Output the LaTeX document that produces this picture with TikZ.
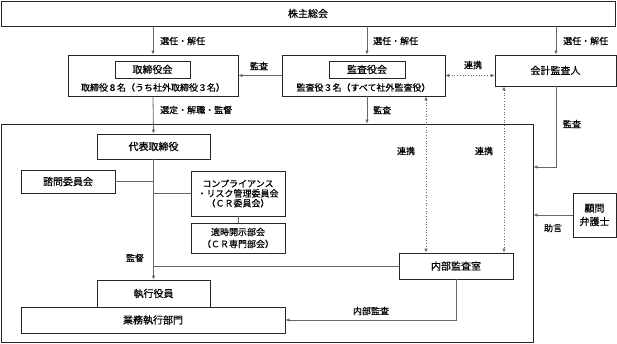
\documentclass[tikz,border=0pt]{standalone}
\usepackage{fontspec}
\setmainfont{Noto Sans CJK JP}[FakeBold=0.5]
\usetikzlibrary{arrows.meta}
\begin{document}
\begin{tikzpicture}[x=1pt,y=-1pt,
  box/.style={draw=black!85, line width=0.8pt, fill=white, inner sep=0pt, align=center, font=\fontsize{10}{12}\selectfont},
  ln/.style={draw=black!60, line width=0.8pt},
  arr/.style={ln, -{Latex[length=4pt,width=3.5pt]}},
  dotarr/.style={draw=black!60, line width=0.7pt, dotted, {Latex[length=4pt,width=3.5pt]}-{Latex[length=4pt,width=3.5pt]}},
  lab/.style={inner sep=0pt, font=\fontsize{9}{10}\selectfont},
  sub/.style={inner sep=0pt, font=\fontsize{9}{10}\selectfont}]
\useasboundingbox (0,0) rectangle (617,344);
% boxes
\node[box, minimum width=614, minimum height=25] (kabu) at (308,13.5) {株主総会};
\node[box, minimum width=532, minimum height=218] (cont) at (267,233) {};
\node[box, minimum width=170, minimum height=41] (tori) at (153,75.5) {};
\node[box, minimum width=75, minimum height=17] (toriIn) at (152.5,69.5) {取締役会};
\node[sub] (toriSub) at (153,87.5) {取締役８名（うち社外取締役３名）};
\node[box, minimum width=163, minimum height=41] (kansa) at (363.5,75.5) {};
\node[box, minimum width=76, minimum height=17] (kansaIn) at (367,69.5) {監査役会};
\node[sub] (kansaSub) at (363.5,87.5) {監査役３名（すべて社外監査役）};
\node[box, minimum width=121, minimum height=31] (kaikei) at (555.5,70.5) {会計監査人};
\node[box, minimum width=113, minimum height=25] (daihyo) at (153.5,146.5) {代表取締役};
\node[box, minimum width=94, minimum height=23] (shimon) at (68,181.5) {諮問委員会};
\node[box, minimum width=94, minimum height=45, font=\fontsize{9}{9.8}\selectfont] (cr) at (238,193.5) {コンプライアンス\\・リスク管理委員会\\（ＣＲ委員会）};
\node[box, minimum width=94, minimum height=30, font=\fontsize{9}{12}\selectfont] (tekiji) at (238,238) {適時開示部会\\（ＣＲ専門部会）};
\node[box, minimum width=114, minimum height=26] (naibu) at (456,266) {内部監査室};
\node[box, minimum width=113, minimum height=27] (shikkou) at (153.5,293.5) {執行役員};
\node[box, minimum width=264, minimum height=26] (gyoumu) at (153,320) {業務執行部門};
\node[box, minimum width=43, minimum height=44, font=\fontsize{10}{13.5}\selectfont] (komon) at (594.5,215) {顧問\\弁護士};
% helper coordinates
\coordinate (d1) at (426,0);
\coordinate (d2) at (504,0);
\coordinate (ka) at (556,167);
% connectors
\draw[arr] (kabu.south -| tori.north) -- (tori.north);
\draw[arr] (kabu.south -| kansaIn.south) -- (kansa.north -| kansaIn.south);
\draw[arr] (kabu.south -| ka) -- (kaikei.north -| ka);
\draw[arr] (kansa.west) -- (tori.east);
\draw[dotarr] (kansa.east) -- (kansa.east -| kaikei.west);
\draw[arr] (tori.south) -- (daihyo.north);
\draw[arr] (kansa.south -| kansaIn.south) -- (cont.north -| kansaIn.south);
\draw[dotarr] (kansa.south -| d1) -- (naibu.north -| d1);
\draw[dotarr] (kaikei.south -| d2) -- (naibu.north -| d2);
\draw[arr] (kaikei.south -| ka) |- (cont.east |- ka);
\draw[arr] (komon.west) -- (cont.east |- komon.west);
\draw[arr] (daihyo.south) -- (shikkou.north);
\draw[ln] (shimon.east) -- (shimon.east -| daihyo.south);
\draw[ln] (daihyo.south |- cr.west) -- (cr.west);
\draw[ln] (cr.south) -- (tekiji.north);
\draw[ln] (naibu.west) -- (naibu.west -| daihyo.south);
\draw[arr] (naibu.south) |- (gyoumu.east);
% labels
\node[lab, anchor=west] (l1) at (160,41) {選任・解任};
\node[lab, anchor=west] (l2) at (373,41) {選任・解任};
\node[lab, anchor=west] (l3) at (563,41) {選任・解任};
\node[lab] (l4) at (259,66) {監査};
\node[lab] (l5) at (473,65) {連携};
\node[lab, anchor=west] (l6) at (160,110) {選定・解職・監督};
\node[lab, anchor=west] (l7) at (373,110) {監査};
\node[lab] (l8) at (406,151) {連携};
\node[lab] (l9) at (484,151) {連携};
\node[lab] (l10) at (572,124) {監査};
\node[lab] (l11) at (553,228) {助言};
\node[lab] (l12) at (135,258) {監督};
\node[lab] (l13) at (371,311) {内部監査};
\end{tikzpicture}
\end{document}
